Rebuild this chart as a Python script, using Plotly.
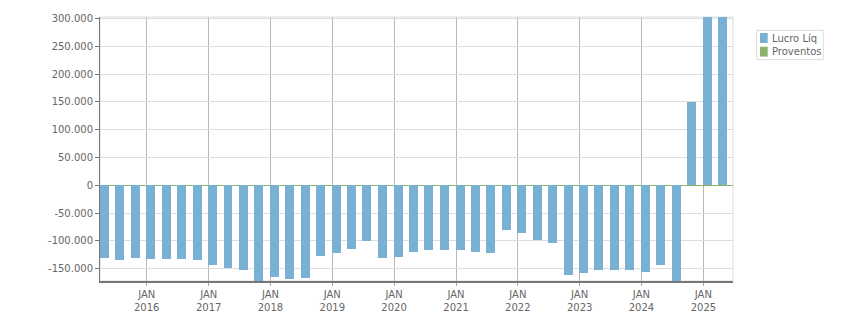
import plotly.graph_objects as go

# Quarter-end dates, Q1 2015 .. Q1 2025
quarters = [
    "2015-03-31", "2015-06-30", "2015-09-30", "2015-12-31",
    "2016-03-31", "2016-06-30", "2016-09-30", "2016-12-31",
    "2017-03-31", "2017-06-30", "2017-09-30", "2017-12-31",
    "2018-03-31", "2018-06-30", "2018-09-30", "2018-12-31",
    "2019-03-31", "2019-06-30", "2019-09-30", "2019-12-31",
    "2020-03-31", "2020-06-30", "2020-09-30", "2020-12-31",
    "2021-03-31", "2021-06-30", "2021-09-30", "2021-12-31",
    "2022-03-31", "2022-06-30", "2022-09-30", "2022-12-31",
    "2023-03-31", "2023-06-30", "2023-09-30", "2023-12-31",
    "2024-03-31", "2024-06-30", "2024-09-30", "2024-12-31",
    "2025-03-31",
]

lucro_liq = [
    -131000, -134800, -131000, -132400,
    -133000, -133000, -134800, -143800,
    -149200, -152800, -178000, -165500,
    -169000, -167300, -127600, -122200,
    -115000, -100500, -131200, -129400,
    -120400, -116800, -116800, -116800,
    -120400, -122200, -80700, -86100,
    -98700, -104100, -161900, -158300,
    -152800, -152800, -152800, -156500,
    -143800, -178000, 150400, 340000,
    360000,
]

proventos = [0] * len(quarters)

x_tickvals = ["2016-01-01", "2017-01-01", "2018-01-01", "2019-01-01", "2020-01-01",
              "2021-01-01", "2022-01-01", "2023-01-01", "2024-01-01", "2025-01-01"]
x_ticktext = ["JAN<br>2016", "JAN<br>2017", "JAN<br>2018", "JAN<br>2019", "JAN<br>2020",
              "JAN<br>2021", "JAN<br>2022", "JAN<br>2023", "JAN<br>2024", "JAN<br>2025"]

y_tickvals = [-150000, -100000, -50000, 0, 50000, 100000, 150000, 200000, 250000, 300000]
y_ticktext = ["-150.000", "-100.000", "-50.000", "0", "50.000", "100.000",
              "150.000", "200.000", "250.000", "300.000"]

series_names = ["Lucro Líq", "Proventos"]
series_colors = ["#78B1D4", "#8BB36C"]

DAY = 86400000
bar_width = 53 * DAY
bar_offset = -1.5 * DAY

fig = go.Figure()
fig.add_trace(go.Bar(x=quarters, y=lucro_liq, name=series_names[0],
                     marker=dict(color=series_colors[0], line=dict(width=0)),
                     width=bar_width, offset=bar_offset, showlegend=False))
fig.add_trace(go.Bar(x=quarters, y=proventos, name=series_names[1],
                     marker=dict(color=series_colors[1], line=dict(width=0)),
                     width=bar_width, offset=bar_offset, showlegend=False))

font_family = "DejaVu Sans"
text_color = "#666666"

# frame (top/right light border)
fig.add_shape(type="rect", xref="paper", yref="paper", x0=0, x1=1, y0=0, y1=1,
              line=dict(color="#dcdcdc", width=1), layer="below")

# manual legend
lx0, lx1, ly0, ly1 = 1.0374, 1.1427, 0.8386, 0.9496
fig.add_shape(type="rect", xref="paper", yref="paper", x0=lx0, x1=lx1, y0=ly0, y1=ly1,
              line=dict(color="#dcdcdc", width=1), fillcolor="white")
plot_w, plot_h = 633.0, 264.0
sq_rows = [(32.7, 42.7), (46.5, 56.3)]
for (t, b), name, col in zip(sq_rows, series_names, series_colors):
    fig.add_shape(type="rect", xref="paper", yref="paper",
                  x0=(760 - 100) / plot_w, x1=(767.7 - 100) / plot_w,
                  y0=(280.7 - b) / plot_h, y1=(280.7 - t) / plot_h,
                  line=dict(width=0), fillcolor=col)
    fig.add_annotation(xref="paper", yref="paper", x=(770 - 100) / plot_w,
                       y=(280.7 - (t + b) / 2) / plot_h, text=name, showarrow=False,
                       xanchor="left", yanchor="middle",
                       font=dict(family=font_family, size=10, color=text_color))

fig.update_layout(
    width=851, height=313,
    margin=dict(l=100, r=118, t=17, b=32, autoexpand=False),
    paper_bgcolor="white", plot_bgcolor="white",
    barmode="overlay", bargap=0,
    showlegend=False,
    separators=",.",
    font=dict(family=font_family, size=10, color=text_color),
    xaxis=dict(
        type="date",
        range=["2015-03-31", "2025-06-25"],
        tickvals=x_tickvals, ticktext=x_ticktext,
        showgrid=True, gridcolor="#b8b8b8", gridwidth=1,
        showline=True, linecolor="#777777", linewidth=2,
        ticks="outside", ticklen=3, tickcolor="#aaaaaa",
        zeroline=False, automargin=False,
    ),
    yaxis=dict(
        range=[-172300, 303000],
        tickvals=y_tickvals, ticktext=y_ticktext,
        showgrid=True, gridcolor="#dddddd", gridwidth=1,
        showline=True, linecolor="#777777", linewidth=1,
        ticks="outside", ticklen=4, tickcolor="#777777",
        zeroline=True, zerolinecolor="#8BB36C", zerolinewidth=1,
        automargin=False,
    ),
)

fig.write_html("out.html")
